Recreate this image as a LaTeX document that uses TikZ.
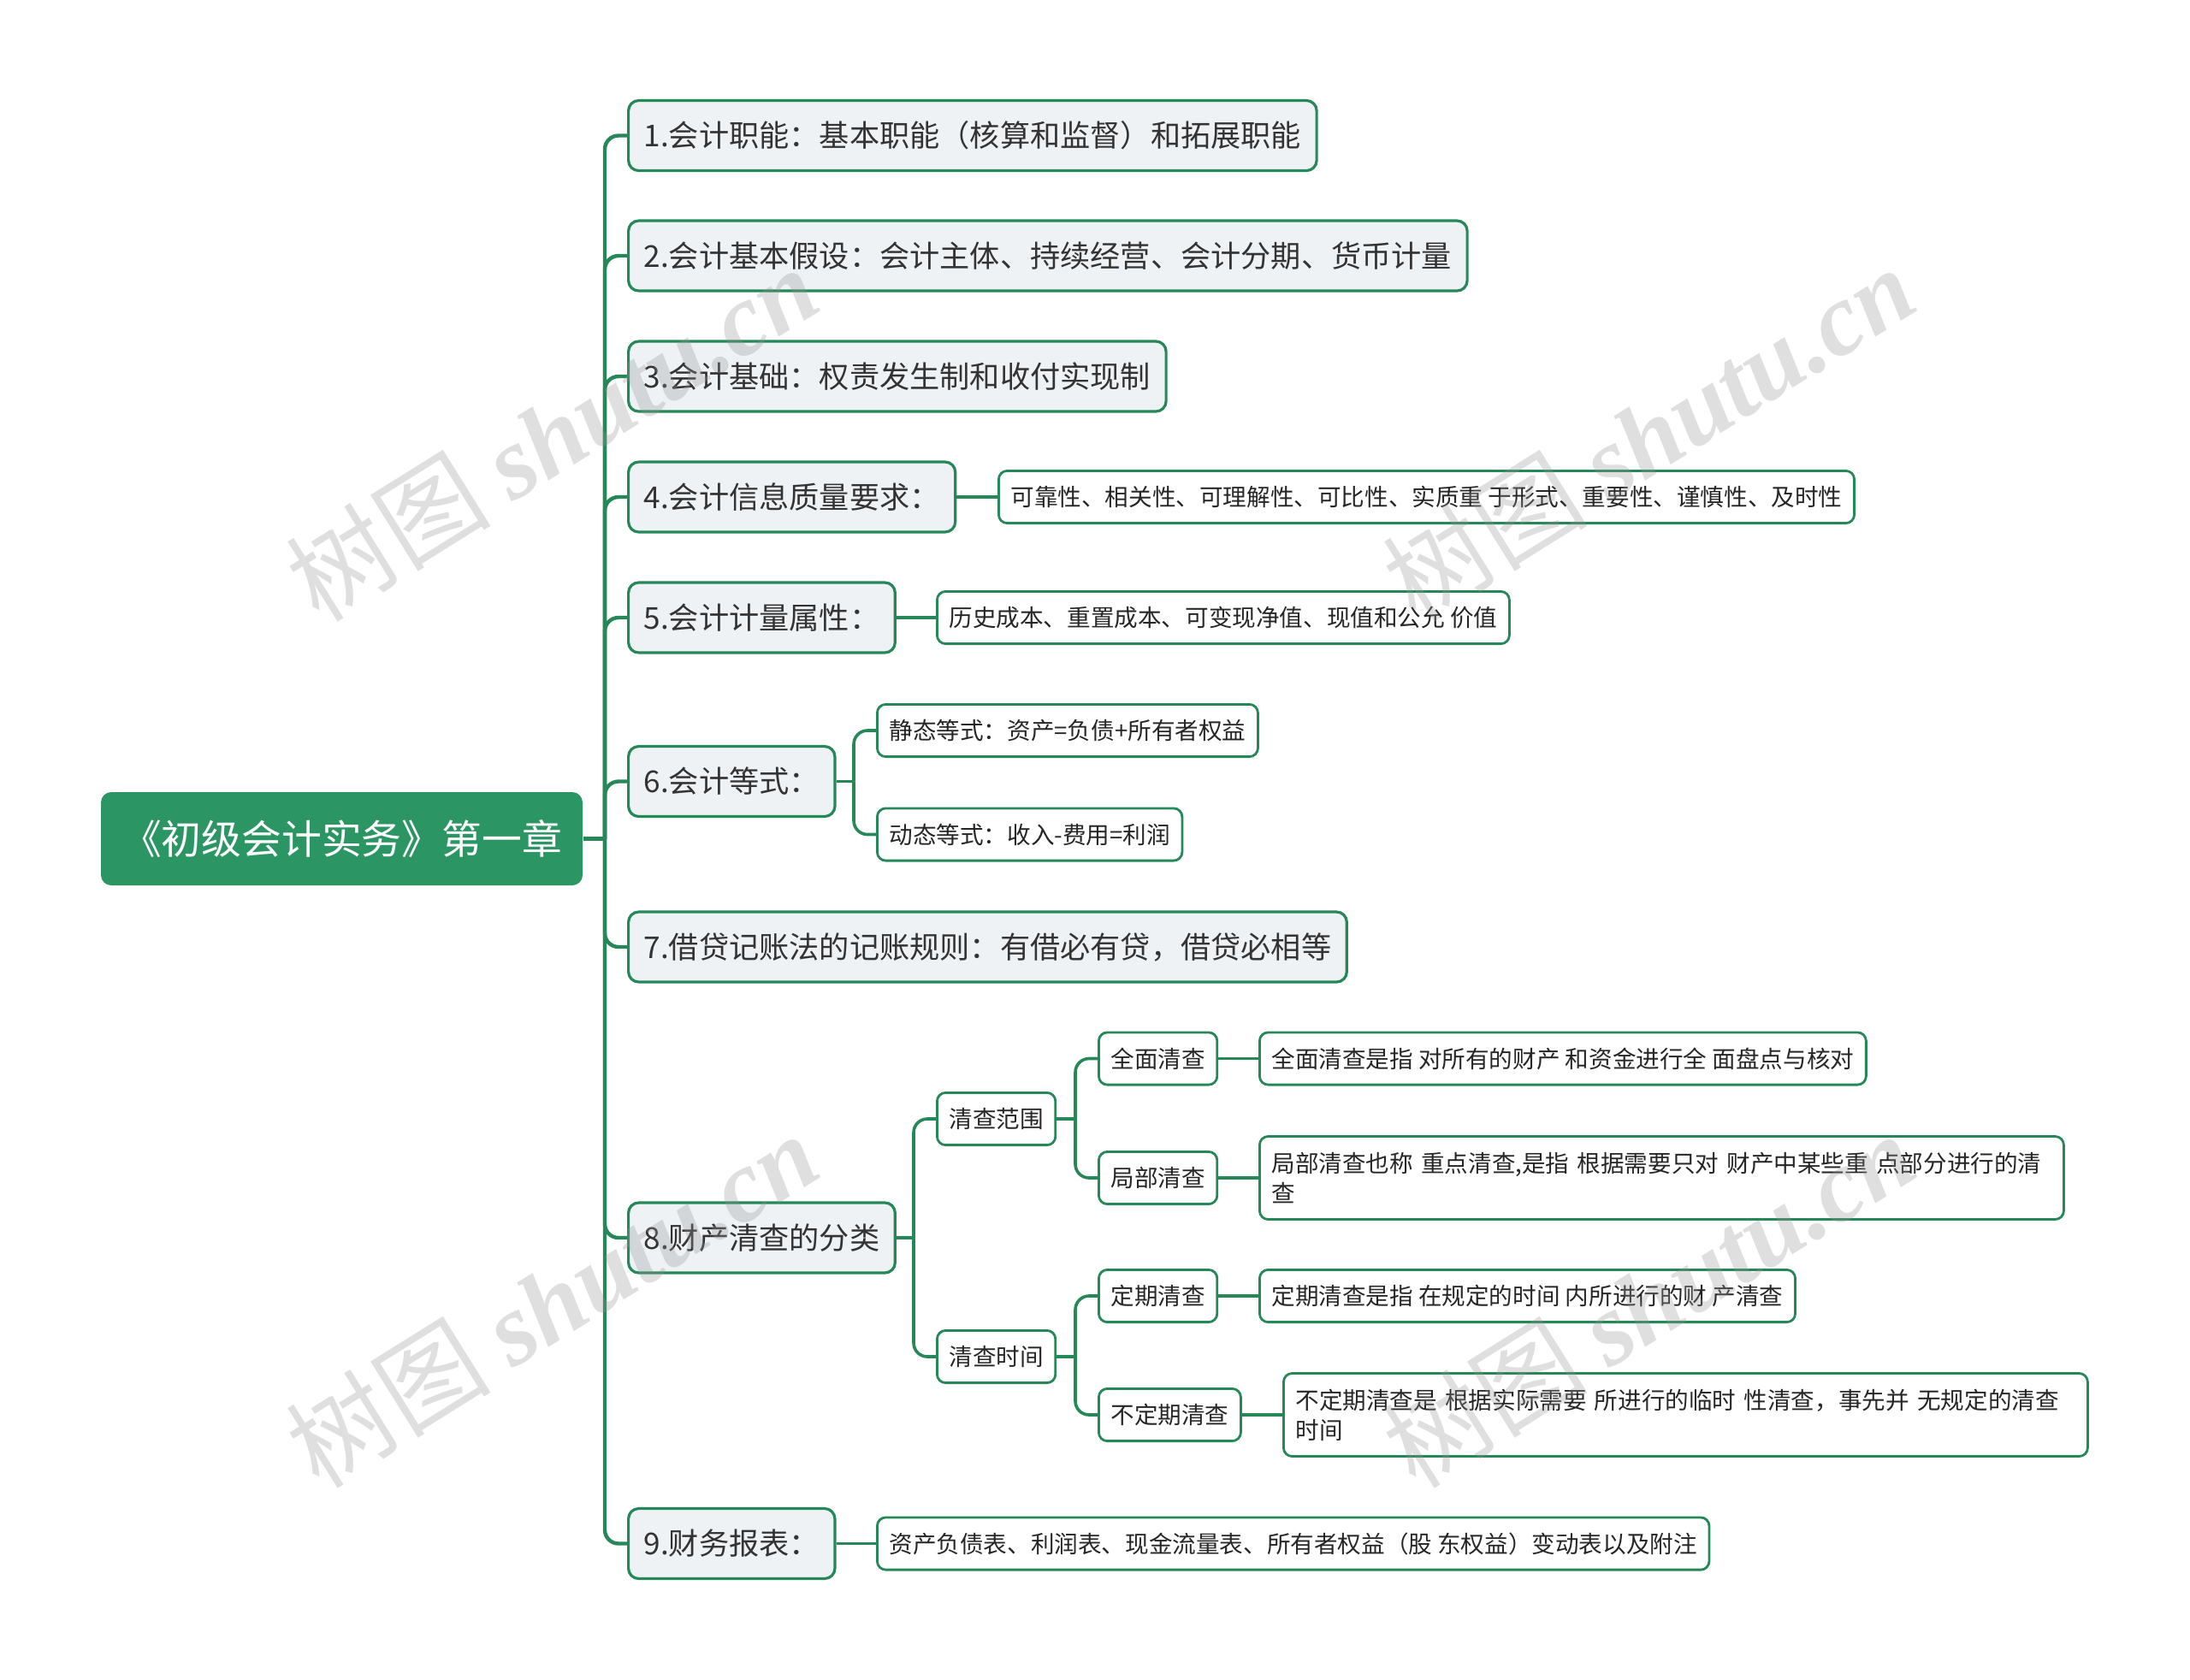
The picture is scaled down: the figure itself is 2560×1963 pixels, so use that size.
\documentclass[tikz,border=0pt]{standalone}
\usepackage{fontspec}
\setmainfont{Noto Sans CJK SC}
\newfontfamily\wmlatin{Liberation Serif}
\usetikzlibrary{calc}
\definecolor{rootgreen}{RGB}{43,150,100}
\definecolor{linegreen}{RGB}{38,135,88}
\definecolor{topicfill}{RGB}{238,242,245}
\definecolor{wmgray}{RGB}{150,150,150}
\tikzset{
  rootbox/.style={fill=rootgreen, rounded corners=3pt, text=white,
    minimum width=140.75pt, minimum height=27.25pt,
    font=\fontsize{11.7}{13}\selectfont},
  topic/.style={draw=linegreen, fill=topicfill, rounded corners=3pt,
    line width=0.8pt, anchor=west, minimum height=20.5pt, inner xsep=4.5pt,
    text=black!80, font=\fontsize{8.8}{10}\selectfont},
  leaf/.style={draw=linegreen, fill=white, rounded corners=2.5pt,
    line width=0.7pt, anchor=west, minimum height=15.3pt, inner xsep=3.5pt,
    text=black!85, align=left, font=\fontsize{6.9}{8.8}\selectfont},
  link/.style={draw=linegreen, line width=1.1pt, rounded corners=4pt},
  sublink/.style={draw=linegreen, line width=0.9pt, rounded corners=4pt},
  wm/.style={text=wmgray, opacity=0.3, rotate=32,
    font=\fontsize{30}{30}\selectfont},
}
\begin{document}
\begin{tikzpicture}[x=0.25pt, y=-0.25pt]
\useasboundingbox (0,0) rectangle (2560,1963);
% root and trunk
\node[rootbox] (root) at (399.5,980.5) {《初级会计实务》第一章};
\coordinate (trunk) at (707,980.5);

% first level
\node[topic] (t1) at (733,158.5) {1.会计职能：基本职能（核算和监督）和拓展职能};
\node[topic] (t2) at (733,299) {2.会计基本假设：会计主体、持续经营、会计分期、货币计量};
\node[topic] (t3) at (733,440) {3.会计基础：权责发生制和收付实现制};
\node[topic] (t4) at (733,581) {4.会计信息质量要求：};
\node[topic] (t5) at (733,722) {5.会计计量属性：};
\node[topic] (t6) at (733,913.5) {6.会计等式：};
\node[topic] (t7) at (733,1107) {7.借贷记账法的记账规则：有借必有贷，借贷必相等};
\node[topic] (t8) at (733,1447) {8.财产清查的分类};
\node[topic] (t9) at (733,1804.5) {9.财务报表：};

% second level
\node[leaf] (l4) at (1166,581) {可靠性、相关性、可理解性、可比性、实质重 于形式、重要性、谨慎性、及时性};
\node[leaf] (l5) at (1094,722) {历史成本、重置成本、可变现净值、现值和公允 价值};
\node[leaf] (l6a) at (1024,854) {静态等式：资产=负债+所有者权益};
\node[leaf] (l6b) at (1024,975.5) {动态等式：收入-费用=利润};
\node[leaf] (s8a) at (1094,1308) {清查范围};
\node[leaf] (s8b) at (1094,1586) {清查时间};
\node[leaf] (l9) at (1024,1804.5) {资产负债表、利润表、现金流量表、所有者权益（股 东权益）变动表以及附注};

% third level
\node[leaf] (q1) at (1283,1237.5) {全面清查};
\node[leaf] (q2) at (1283,1377) {局部清查};
\node[leaf] (q3) at (1283,1515) {定期清查};
\node[leaf] (q4) at (1283,1654) {不定期清查};
\node[leaf] (d1) at (1471,1237.5) {全面清查是指 对所有的财产 和资金进行全 面盘点与核对};
\node[leaf, minimum height=24.25pt, text width=228pt] (d2) at (1471,1377) {局部清查也称 重点清查,是指 根据需要只对 财产中某些重 点部分进行的清\\查};
\node[leaf] (d3) at (1471,1515) {定期清查是指 在规定的时间 内所进行的财 产清查};
\node[leaf, minimum height=24.25pt, text width=228pt] (d4) at (1499,1654) {不定期清查是 根据实际需要 所进行的临时 性清查，事先并 无规定的清查\\时间};

% connectors
\draw[link] (root.east) -- (trunk);
\foreach \n in {t1,t2,t3,t4,t5,t6,t7,t8,t9}
  \draw[link] (trunk) |- (\n.west);
\draw[sublink] (t4.east) -- (l4.west);
\draw[sublink] (t5.east) -- (l5.west);
\draw[sublink] (t9.east) -- (l9.west);
\coordinate (j6) at (998,913.5);
\draw[sublink] (t6.east) -- (j6);
\draw[sublink] (j6) |- (l6a.west);
\draw[sublink] (j6) |- (l6b.west);
\coordinate (j8) at (1068,1447);
\draw[sublink] (t8.east) -- (j8);
\draw[sublink] (j8) |- (s8a.west);
\draw[sublink] (j8) |- (s8b.west);
\coordinate (j8a) at (1257,1308);
\draw[sublink] (s8a.east) -- (j8a);
\draw[sublink] (j8a) |- (q1.west);
\draw[sublink] (j8a) |- (q2.west);
\coordinate (j8b) at (1257,1586);
\draw[sublink] (s8b.east) -- (j8b);
\draw[sublink] (j8b) |- (q3.west);
\draw[sublink] (j8b) |- (q4.west);
\foreach \a/\b in {q1/d1,q2/d2,q3/d3,q4/d4}
  \draw[sublink] (\a.east) -- (\b.west);

% watermarks
\foreach \p in {(645,506),(1927,506),(645,1519),(1927,1519)}
  \node[wm] at \p {树图 {\wmlatin\bfseries\itshape shutu.cn}};
\end{tikzpicture}
\end{document}
